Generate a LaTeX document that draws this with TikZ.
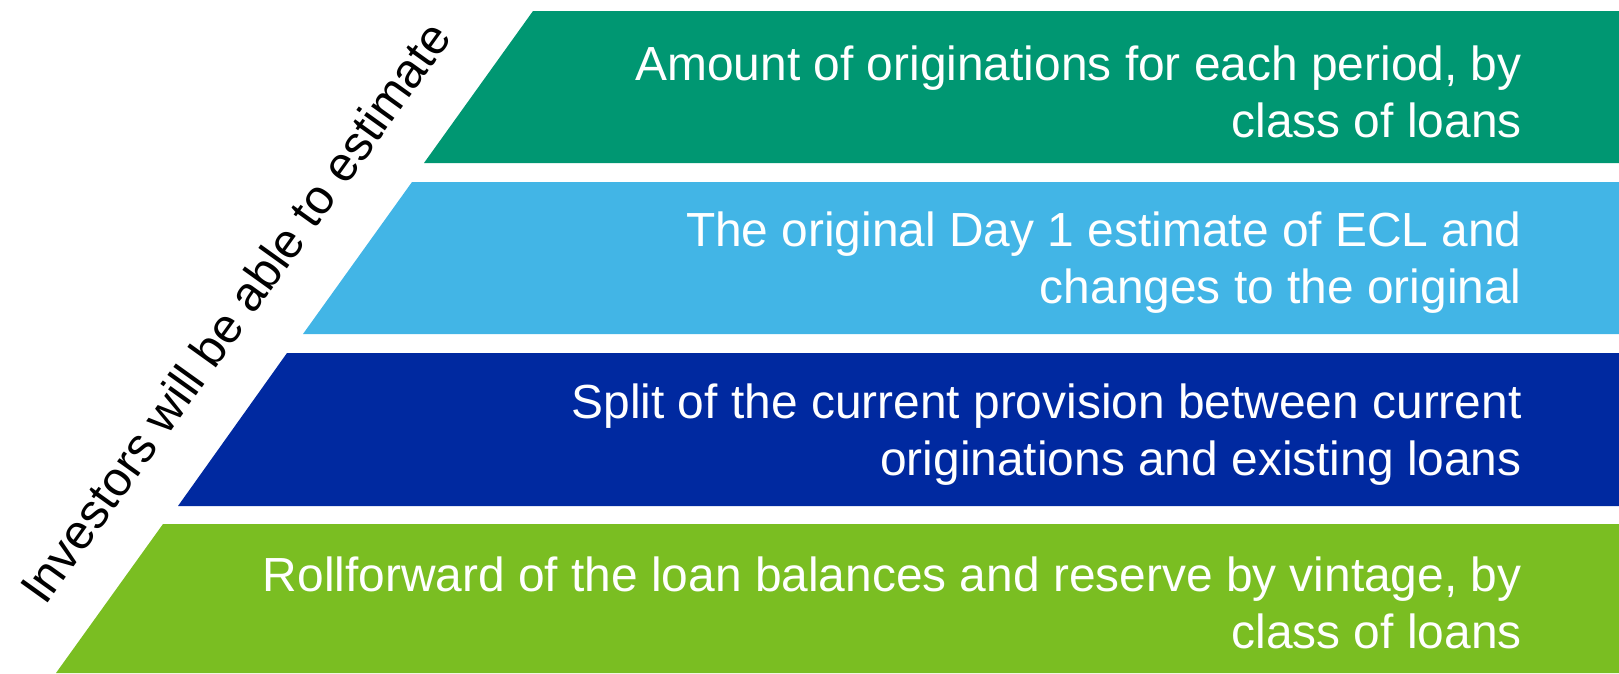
\documentclass[tikz,border=0pt]{standalone}
\usepackage{fontspec}
\setmainfont{Liberation Sans}

\definecolor{tealgreen}{RGB}{0,151,114}
\definecolor{skyblue}{RGB}{66,181,230}
\definecolor{navyblue}{RGB}{0,41,160}
\definecolor{limegreen}{RGB}{122,190,34}

\begin{document}
\begin{tikzpicture}[x=0.02cm, y=-0.02cm,
  bandtext/.style={anchor=east, align=right, text=white, inner sep=0pt,
                   font=\fontsize{27.25}{32.5}\selectfont},
  sidetext/.style={rotate=54.4, inner sep=0pt, font=\fontsize{27.6}{33}\selectfont},
]
\useasboundingbox (0,0) rectangle (1619,673);

% four slanted bands, right side runs off the page
\fill[tealgreen] (533,11)  -- (1619,11)  -- (1619,163) -- (424,163) -- cycle;
\fill[skyblue]   (412,182) -- (1619,182) -- (1619,334) -- (303,334) -- cycle;
\fill[navyblue]  (287,353) -- (1619,353) -- (1619,506) -- (178,506) -- cycle;
\fill[limegreen] (163,524) -- (1619,524) -- (1619,673) -- (56,673)  -- cycle;

\node[bandtext] (t1) at (1522,92)  {Amount of originations for each period, by\\class of loans};
\node[bandtext] (t2) at (1522,263) {The original Day 1 estimate of ECL and\\changes to the original};
\node[bandtext] (t3) at (1522,435) {Split of the current provision between current\\originations and existing loans};
\node[bandtext] (t4) at (1522,603) {Rollforward of the loan balances and reserve by vintage, by\\class of loans};

\node[sidetext] (side) at (235,312) {Investors will be able to estimate};
\end{tikzpicture}
\end{document}
